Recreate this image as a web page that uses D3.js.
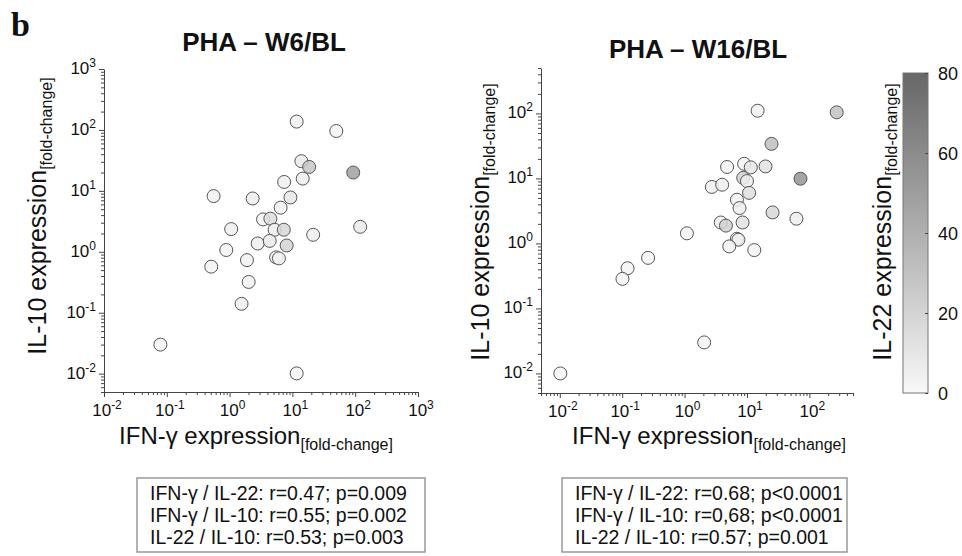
<!DOCTYPE html>
<html><head><meta charset="utf-8">
<script src="https://cdn.jsdelivr.net/npm/d3@7"></script>
<style>
html,body{margin:0;padding:0;background:#fff;}
svg{display:block;font-family:"Liberation Sans",Arial,sans-serif;}
</style></head>
<body>
<svg id="chart" width="962" height="556"></svg>
<script>
// ---- Data ----
// Panel W6/BL: IFN-γ (x), IL-10 (y), IL-22 (colour)
const w6_ifng = [11.7, 50, 13.9, 18.5, 93, 14.6, 7.4, 0.556, 2.33, 9.3, 6.5, 3.41, 4.46, 1.06, 5.2, 7.3, 21.4, 120, 2.8, 4.35, 8.1, 0.885, 5.5, 6.1, 1.89, 0.51, 2.01, 1.55, 0.079, 11.7];
const w6_il10 = [137, 96, 30.7, 24.7, 20, 15.9, 14, 8.2, 7.5, 7.8, 5.3, 3.4, 3.5, 2.36, 2.3, 2.3, 1.9, 2.57, 1.37, 1.51, 1.27, 1.07, 0.81, 0.78, 0.73, 0.57, 0.32, 0.14, 0.030, 0.0101];
const w6_il22 = [5, 2, 8, 28, 48, 6, 5, 4, 6, 10, 5, 3, 15, 5, 5, 18, 5, 8, 5, 8, 20, 3, 4, 3, 4, 3, 4, 6, 2, 2];
// Panel W16/BL
const w16_ifng = [14.8, 274, 24.7, 9.0, 4.8, 11.5, 19.8, 72, 8.7, 10, 2.73, 4.0, 10.8, 6.9, 7.6, 25.7, 62, 3.8, 4.6, 8.5, 1.09, 6.9, 7.3, 5.2, 13.1, 0.26, 0.122, 0.101, 2.06, 0.0102];
const w16_il10 = [110, 104, 34, 16.8, 15, 14.8, 15.3, 9.9, 10.2, 9.1, 7.4, 8.0, 6.0, 4.7, 3.5, 3.0, 2.4, 2.1, 1.88, 2.1, 1.43, 1.18, 1.14, 0.90, 0.79, 0.60, 0.415, 0.285, 0.030, 0.010];
const w16_il22 = [4, 30, 32, 4, 4, 10, 12, 55, 22, 6, 5, 5, 14, 4, 5, 18, 6, 6, 22, 12, 3, 4, 5, 4, 3, 2, 2, 2, 3, 2];

const panelTitles = ["PHA \u2013 W6/BL", "PHA \u2013 W16/BL"];
const w6_stats = ["IFN-\u03B3 / IL-22: r=0.47; p=0.009", "IFN-\u03B3 / IL-10: r=0.55; p=0.002", "IL-22 / IL-10: r=0.53; p=0.003"];
const w16_stats = ["IFN-\u03B3 / IL-22: r=0.68; p<0.0001", "IFN-\u03B3 / IL-10: r=0,68; p<0.0001", "IL-22 / IL-10: r=0.57; p=0.001"];
const colorTicks = [0, 20, 40, 60, 80];
const w6_xMajors = [-2, -1, 0, 1, 2, 3];
const w6_yMajors = [-2, -1, 0, 1, 2, 3];
const w16_xMajors = [-2, -1, 0, 1, 2];
const w16_yMajors = [-2, -1, 0, 1, 2];

// ---- Drawing ----
const svg = d3.select("#chart");
const color = d3.scaleLinear().domain([0, 80]).range(["#f8f8f8", "#676767"]);

function allLogTicks(domain) {
  const out = [];
  const lo = Math.floor(Math.log10(domain[0])), hi = Math.ceil(Math.log10(domain[1]));
  for (let e = lo; e <= hi; e++) for (let m = 1; m <= 9; m++) {
    const v = m * Math.pow(10, e);
    if (v >= domain[0] * 0.999 && v <= domain[1] * 1.001) out.push(v);
  }
  return out;
}
const isMajor = v => Math.abs(Math.log10(v) - Math.round(Math.log10(v))) < 1e-6;

function powLabel(sel, exp) {
  sel.append("tspan").text("10");
  sel.append("tspan").attr("font-size", 12).attr("dy", -7).text(exp);
}

function panel(cfg) {
  const x = d3.scaleLog().domain(cfg.xDom).range(cfg.xRange);
  const y = d3.scaleLog().domain(cfg.yDom).range(cfg.yRange);
  const g = svg.append("g");

  // y axis
  const ya = g.append("g").attr("transform", `translate(${cfg.xRange[0]},0)`)
    .call(d3.axisLeft(y).tickValues(allLogTicks(cfg.yDom)).tickFormat("").tickSizeOuter(0));
  ya.selectAll(".tick line").attr("x2", d => isMajor(d) ? -5 : -3);
  // x axis
  const xa = g.append("g").attr("transform", `translate(0,${cfg.yRange[0]})`)
    .call(d3.axisBottom(x).tickValues(allLogTicks(cfg.xDom)).tickFormat("").tickSizeOuter(0));
  xa.selectAll(".tick line").attr("y2", d => isMajor(d) ? 5 : 3);
  g.selectAll(".domain, .tick line").attr("stroke", "#444").attr("stroke-width", 1);

  // tick labels
  cfg.yMajors.forEach(e => {
    const t = g.append("text").attr("x", cfg.xRange[0] - 8).attr("y", y(Math.pow(10, e)) + 5)
      .attr("text-anchor", "end").attr("font-size", 17).attr("fill", "#111");
    powLabel(t, e);
  });
  cfg.xMajors.forEach(e => {
    const t = g.append("text").attr("x", x(Math.pow(10, e)) + 3).attr("y", cfg.yRange[0] + 24)
      .attr("text-anchor", "middle").attr("font-size", 17).attr("fill", "#111");
    powLabel(t, e);
  });

  // points
  const pts = cfg.xs.map((v, i) => ({x: v, y: cfg.ys[i], c: cfg.cs[i]}));
  g.append("g").selectAll("circle").data(pts).join("circle")
    .attr("cx", d => x(d.x)).attr("cy", d => y(d.y)).attr("r", 6.5)
    .attr("fill", d => color(d.c)).attr("fill-opacity", 0.85)
    .attr("stroke", "#555").attr("stroke-width", 1);

  // title
  g.append("text").attr("x", cfg.titleX).attr("y", cfg.titleY).attr("text-anchor", "middle")
    .attr("font-size", 26).attr("font-weight", "bold").attr("fill", "#111").text(cfg.title);

  // x label
  const xl = g.append("text").attr("x", cfg.xLabX).attr("y", 444).attr("text-anchor", "middle")
    .attr("font-size", 24).attr("fill", "#111");
  xl.append("tspan").text("IFN-\u03B3 expression");
  xl.append("tspan").attr("font-size", 16).attr("dy", 6).text("[fold-change]");

  // y label
  const yl = g.append("text").attr("transform", `translate(${cfg.yLabX},${cfg.yLabY}) rotate(-90)`)
    .attr("text-anchor", "middle").attr("font-size", 25).attr("fill", "#111");
  yl.append("tspan").text("IL-10 expression");
  yl.append("tspan").attr("font-size", 16).attr("dy", 6).text("[fold-change]");

  // stats box
  g.append("rect").attr("x", cfg.box[0]).attr("y", 478).attr("width", cfg.box[1]).attr("height", 74)
    .attr("fill", "none").attr("stroke", "#999").attr("stroke-width", 1.5);
  cfg.stats.forEach((s, i) => {
    g.append("text").attr("x", cfg.box[0] + 13).attr("y", 500 + i * 22)
      .attr("font-size", 19.5).attr("fill", "#111").text(s);
  });
}

panel({xDom: [0.01, 1000], xRange: [104, 418], yDom: [0.005, 1000], yRange: [392, 69],
  xs: w6_ifng, ys: w6_il10, cs: w6_il22, xMajors: w6_xMajors, yMajors: w6_yMajors,
  title: panelTitles[0], titleX: 264, titleY: 51, xLabX: 256, yLabX: 46, yLabY: 216,
  box: [137, 288], stats: w6_stats});
panel({xDom: [0.005, 500], xRange: [541, 853], yDom: [0.005, 500], yRange: [393, 68],
  xs: w16_ifng, ys: w16_il10, cs: w16_il22, xMajors: w16_xMajors, yMajors: w16_yMajors,
  title: panelTitles[1], titleX: 698, titleY: 58, xLabX: 709, yLabX: 489, yLabY: 222,
  box: [562, 285], stats: w16_stats});

// "b" panel letter
svg.append("text").attr("x", 11).attr("y", 36).attr("font-family", "'Liberation Serif','Times New Roman',serif")
  .attr("font-weight", "bold").attr("font-size", 34).attr("fill", "#111").text("b");

// colour bar
const cb = {x: 903, w: 25, top: 73, bottom: 393};
const cy = d3.scaleLinear().domain([0, 80]).range([cb.bottom, cb.top]);
const defs = svg.append("defs");
const grad = defs.append("linearGradient").attr("id", "cbg").attr("x1", 0).attr("y1", 1).attr("x2", 0).attr("y2", 0);
grad.append("stop").attr("offset", "0%").attr("stop-color", color(0));
grad.append("stop").attr("offset", "100%").attr("stop-color", color(80));
svg.append("rect").attr("x", cb.x).attr("y", cb.top).attr("width", cb.w).attr("height", cb.bottom - cb.top)
  .attr("fill", "url(#cbg)").attr("stroke", "#777").attr("stroke-width", 1);
const cax = svg.append("g").attr("transform", `translate(${cb.x + cb.w},0)`)
  .call(d3.axisLeft(cy).tickValues(colorTicks).tickSize(3).tickFormat(""));
cax.select(".domain").remove();
cax.selectAll(".tick line").attr("stroke", "#444");
colorTicks.forEach(v => {
  svg.append("text").attr("x", 938).attr("y", cy(v) + 7).attr("font-size", 18).attr("fill", "#111").text(v);
});
const cl = svg.append("text").attr("transform", `translate(891,222) rotate(-90)`)
  .attr("text-anchor", "middle").attr("font-size", 25).attr("fill", "#111");
cl.append("tspan").text("IL-22 expression");
cl.append("tspan").attr("font-size", 16).attr("dy", 6).text("[fold-change]");
</script>
</body></html>
